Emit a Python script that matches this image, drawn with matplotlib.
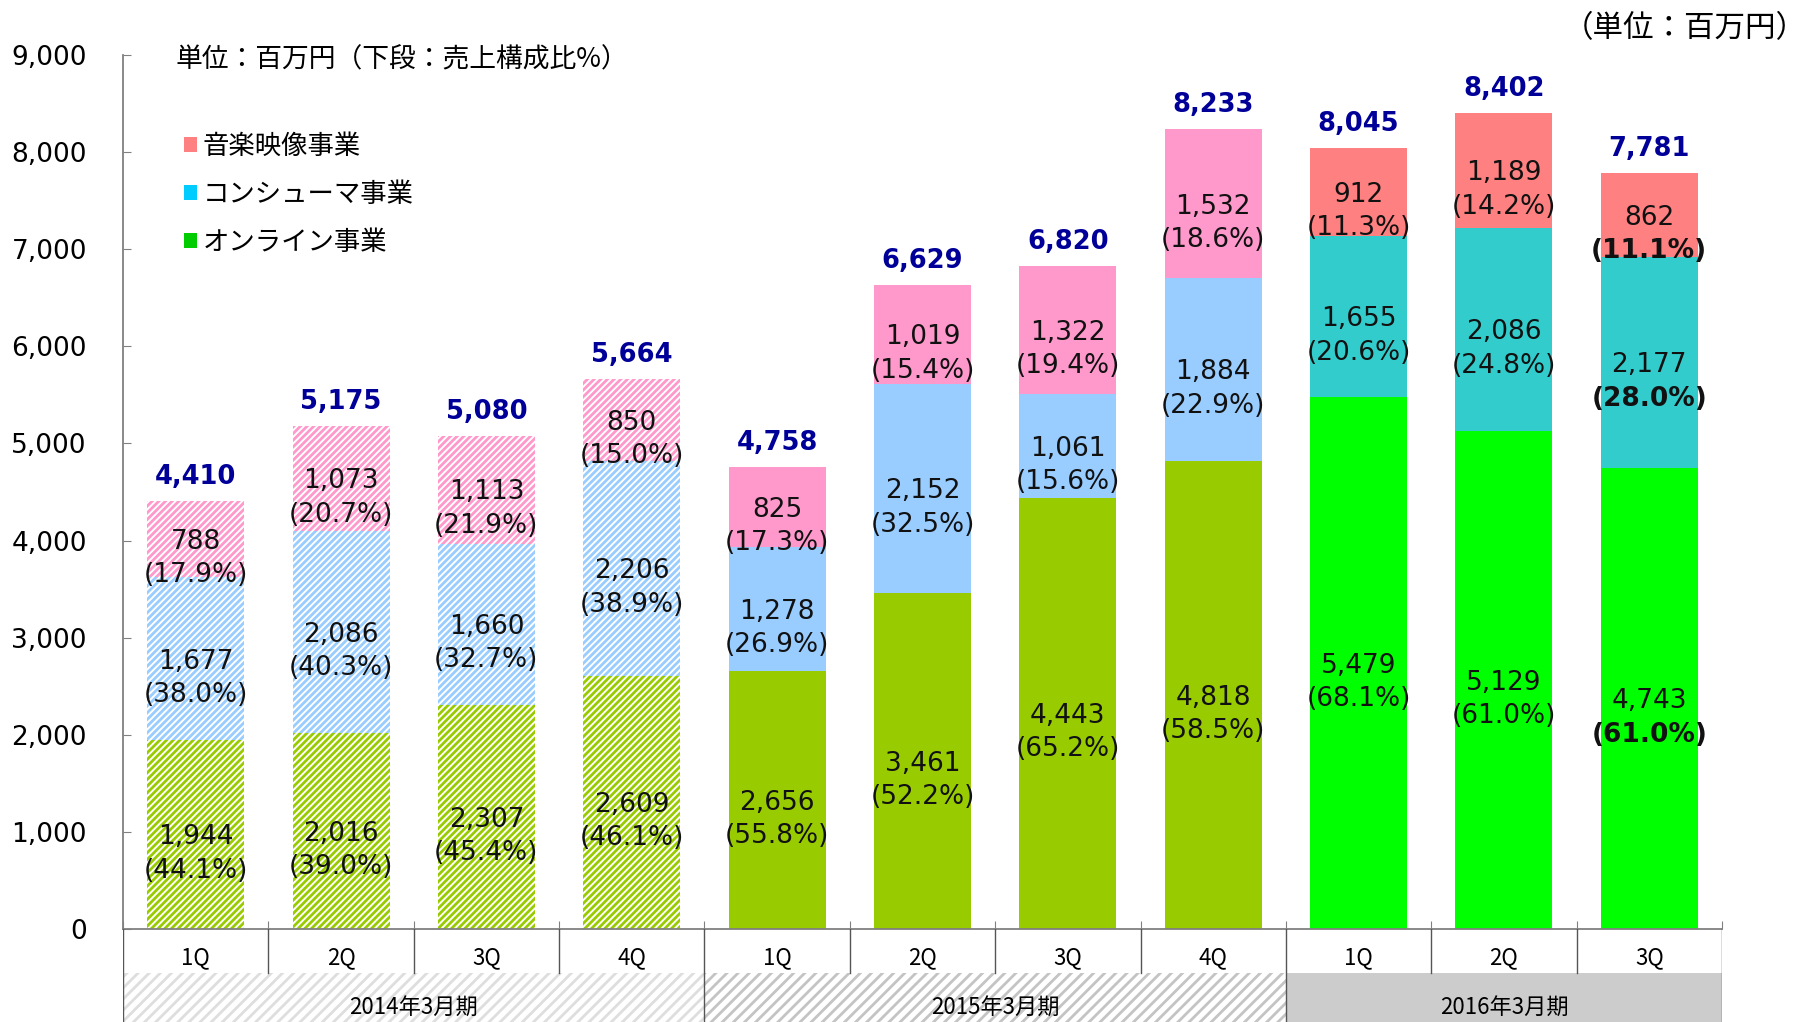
import matplotlib
matplotlib.use('Agg')
import matplotlib.pyplot as plt
from matplotlib.patches import Patch, Rectangle
from matplotlib.ticker import StrMethodFormatter

quarters = ['1Q', '2Q', '3Q', '4Q', '1Q', '2Q', '3Q', '4Q', '1Q', '2Q', '3Q']
periods = ['2014年3月期', '2015年3月期', '2016年3月期']
period_len = [4, 4, 3]

online = [1944, 2016, 2307, 2609, 2656, 3461, 4443, 4818, 5479, 5129, 4743]
consumer = [1677, 2086, 1660, 2206, 1278, 2152, 1061, 1884, 1655, 2086, 2177]
music = [788, 1073, 1113, 850, 825, 1019, 1322, 1532, 912, 1189, 862]
totals = [4410, 5175, 5080, 5664, 4758, 6629, 6820, 8233, 8045, 8402, 7781]

online_pct = ['44.1', '39.0', '45.4', '46.1', '55.8', '52.2', '65.2', '58.5', '68.1', '61.0', '61.0']
consumer_pct = ['38.0', '40.3', '32.7', '38.9', '26.9', '32.5', '15.6', '22.9', '20.6', '24.8', '28.0']
music_pct = ['17.9', '20.7', '21.9', '15.0', '17.3', '15.4', '19.4', '18.6', '11.3', '14.2', '11.1']

legend_labels = ['音楽映像事業', 'コンシューマ事業', 'オンライン事業']
legend_colors = ['#ff8080', '#00ccff', '#00cc00']

# colours per period: (online, consumer, music)
old_cols = ('#99cc00', '#99ccff', '#ff99cc')
new_cols = ('#00ff00', '#33cccc', '#ff8080')

plt.rcParams['font.family'] = ['DejaVu Sans', 'Noto Sans CJK JP']
plt.rcParams['hatch.linewidth'] = 2.0
jp = ['Noto Sans CJK JP', 'DejaVu Sans']

fig = plt.figure(figsize=(18.09, 10.22), dpi=100)
L, B, W, H = 0.068, 0.091, 0.8839, 0.8552
ax = fig.add_axes([L, B, W, H])

n = len(quarters)
x = list(range(n))
bw = 0.667
bottoms = [0] * n
for seg, pcts, k in [(online, online_pct, 0), (consumer, consumer_pct, 1), (music, music_pct, 2)]:
    for i in x:
        if i < period_len[0]:
            ax.bar(i, seg[i], bw, bottom=bottoms[i], facecolor='white',
                   edgecolor=old_cols[k], hatch='/////', linewidth=0)
        elif i < period_len[0] + period_len[1]:
            ax.bar(i, seg[i], bw, bottom=bottoms[i], color=old_cols[k], linewidth=0)
        else:
            ax.bar(i, seg[i], bw, bottom=bottoms[i], color=new_cols[k], linewidth=0)
        yc = bottoms[i] + seg[i] / 2
        ax.annotate(f'{seg[i]:,}', (i, yc), xytext=(0, -2), textcoords='offset points',
                    ha='center', va='center', fontsize=19, color='#111111')
        ax.annotate(f'({pcts[i]}%)', (i, yc), xytext=(0, -26), textcoords='offset points',
                    ha='center', va='center', fontsize=19, color='#111111',
                    fontweight='bold' if i == n - 1 else 'normal')
    bottoms = [b + s for b, s in zip(bottoms, seg)]

for i in x:
    ax.annotate(f'{totals[i]:,}', (i, bottoms[i]), xytext=(0, 8), textcoords='offset points',
                ha='center', va='bottom', fontsize=18.5, fontweight='bold', color='#000099')

ax.set_xlim(-0.5, n - 0.5)
ax.set_ylim(0, 9000)
ax.set_yticks(range(0, 9001, 1000))
ax.yaxis.set_major_formatter(StrMethodFormatter('{x:,.0f}'))
ax.tick_params(axis='y', direction='in', length=6, pad=26, labelsize=19, color='#808080')
ax.set_xticks([i - 0.5 for i in range(n + 1)])
ax.set_xticklabels([])
ax.tick_params(axis='x', direction='in', length=6, color='#808080')
for s in ['top', 'right']:
    ax.spines[s].set_visible(False)
for s in ['left', 'bottom']:
    ax.spines[s].set_color('#808080')
    ax.spines[s].set_linewidth(1.3)

ax.text(0.033, 0.994, '単位：百万円（下段：売上構成比%）', transform=ax.transAxes,
        fontsize=19.3, family=jp, va='center', ha='left')
handles = [Patch(facecolor=c, edgecolor='none') for c in legend_colors]
ax.legend(handles, legend_labels, loc='upper left', bbox_to_anchor=(0.030, 0.926),
          frameon=False, handlelength=0.5, handleheight=0.5, handletextpad=0.2,
          labelspacing=0.8, borderpad=0, prop={'family': jp, 'size': 19})

fig.text(0.999, 0.972, '（単位：百万円）', ha='right', va='center', fontsize=22, family=jp)

# category table under the axis
tax = fig.add_axes([L, 0, W, B])
tax.set_xlim(-0.5, n - 0.5)
tax.set_ylim(0, 1)
tax.axis('off')
split = 0.527
period_fill = [dict(facecolor='white', edgecolor='#dedede', hatch='///'),
               dict(facecolor='white', edgecolor='#c4c4c4', hatch='///'),
               dict(facecolor='#cccccc', edgecolor='#cccccc')]
start = -0.5
for p, cnt, style in zip(periods, period_len, period_fill):
    tax.add_patch(Rectangle((start, 0), cnt, split, linewidth=0, **style))
    tax.text(start + cnt / 2, 0.16, p, ha='center', va='center', fontsize=16, family=jp)
    tax.plot([start, start], [0, 1], color='#555555', lw=1)
    for j in range(1, cnt):
        tax.plot([start + j, start + j], [split, 1], color='#555555', lw=1)
    start += cnt
tax.plot([start, start], [0, 1], color='#555555', lw=1)
for i, q in enumerate(quarters):
    tax.text(i, 0.69, q, ha='center', va='center', fontsize=16, family=jp)

fig.savefig('out.png', dpi=100)
